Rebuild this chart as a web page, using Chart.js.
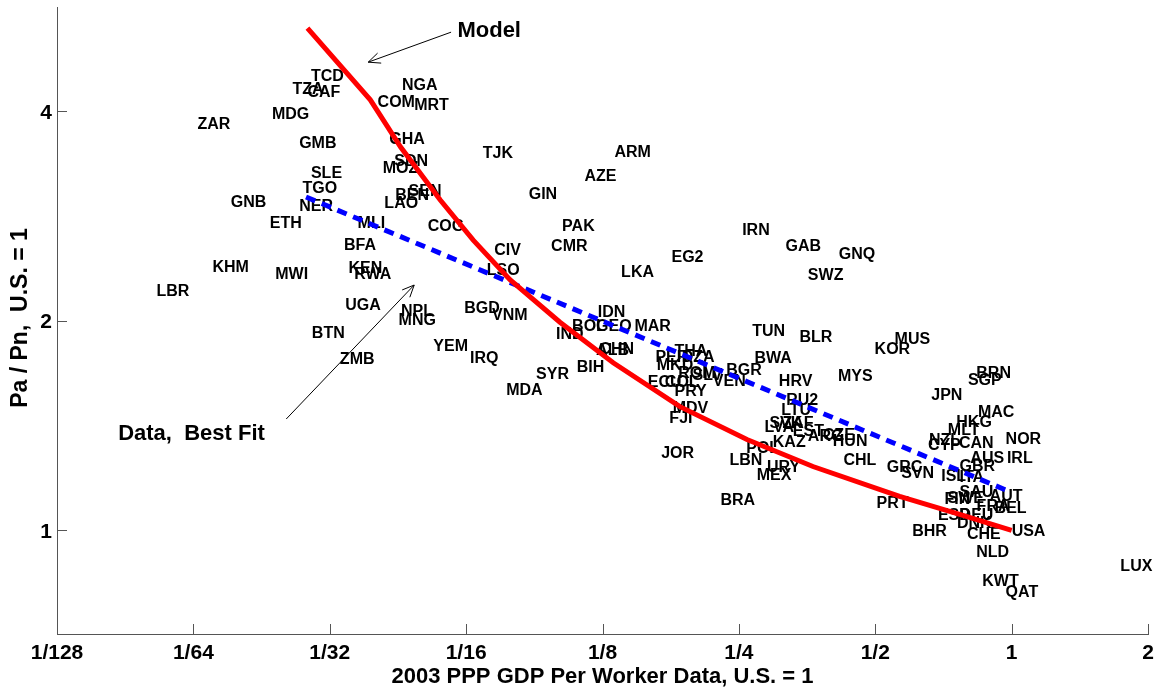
<!DOCTYPE html>
<html><head><meta charset="utf-8">
<script src="https://cdn.jsdelivr.net/npm/chart.js@4.4.0/dist/chart.umd.min.js"></script>
<style>html,body{margin:0;padding:0;background:#fff;}canvas{display:block;}</style>
</head><body>
<canvas id="c" width="1160" height="692"></canvas>
<script>
const FONT = '"Liberation Sans", Arial, Helvetica, sans-serif';

const countries = ['TCD','TZA','CAF','MDG','ZAR','GMB','SLE','TGO','GNB','NER','ETH','MLI','COM','NGA','MRT','GHA','SDN','MOZ','BEN','SEN','LAO','COG','TJK','ARM','AZE','GIN','PAK','IRN','BFA','KHM','MWI','KEN','RWA','LBR','UGA','BTN','ZMB','CIV','CMR','LSO','LKA','EG2','NPL','MNG','BGD','VNM','IDN','BOL','GEO','MAR','IND','ALB','CHN','BIH','SYR','MDA','YEM','IRQ','THA','PER','MKD','ECU','PRY','MDV','FJI','VEN','BGR','TUN','BWA','BLR','HRV','RU2','LTU','SVK','LVA','EST','ARG','CZE','HUN','KAZ','POL','LBN','URY','MEX','CHL','BRA','MYS','JOR','PRT','GAB','GNQ','SWZ','MUS','KOR','BRN','SGP','JPN','MAC','HKG','MLT','NZL','CYP','CAN','NOR','AUS','IRL','GBR','GRC','SVN','ISL','ITA','SAU','FIN','SWE','AUT','BEL','ESP','DNK','CHE','USA','BHR','NLD','KWT','QAT','LUX','DZA','ROM','SLV','COL','ZAF','FRA','DEU'];
const gdpRel = [0.0284,0.02586,0.0279,0.0233,0.01595,0.02675,0.0284,0.0272,0.0189,0.02675,0.02305,0.0360,0.03985,0.0451,0.0480,0.0423,0.0434,0.0409,0.0436,0.04665,0.04125,0.0514,0.0680,0.1328,0.1140,0.0859,0.1018,0.2542,0.0336,0.01722,0.02369,0.03438,0.0354,0.01295,0.0338,0.02853,0.0329,0.0721,0.09625,0.0694,0.1374,0.1775,0.0449,0.04434,0.0619,0.0713,0.1220,0.1071,0.1210,0.147,0.09875,0.1210,0.1230,0.1096,0.0892,0.0766,0.0529,0.06375,0.1802,0.1636,0.1647,0.1574,0.1802,0.1786,0.1756,0.219,0.2344,0.2675,0.2706,0.3403,0.3063,0.318,0.31,0.292,0.2848,0.3288,0.355,0.383,0.403,0.297,0.2595,0.2383,0.2883,0.2738,0.4255,0.2277,0.4135,0.1684,0.5035,0.3168,0.4155,0.355,0.5517,0.4983,0.8356,0.8007,0.6648,0.8426,0.7549,0.7231,0.6568,0.6534,0.7649,0.9699,0.8107,0.9764,0.7676,0.5303,0.5704,0.6993,0.7676,0.7676,0.7112,0.7222,0.8941,0.917,0.6875,0.7572,0.7966,1.0,0.6031,0.8356,0.8615,0.9699,1.738,0.187,0.1836,0.1975,0.1716,0.312,0.837,0.7676];
const priceRatio = [4.49,4.30,4.27,3.97,3.84,3.60,3.26,3.10,2.96,2.93,2.77,2.77,4.13,4.36,4.09,3.65,3.40,3.32,3.03,3.07,2.95,2.74,3.48,3.50,3.23,3.04,2.74,2.70,2.57,2.39,2.34,2.38,2.34,2.21,2.11,1.920,1.762,2.53,2.56,2.37,2.35,2.47,2.07,2.01,2.09,2.04,2.06,1.965,1.965,1.965,1.914,1.815,1.821,1.716,1.677,1.591,1.839,1.768,1.810,1.774,1.728,1.633,1.585,1.499,1.450,1.639,1.699,1.933,1.768,1.895,1.639,1.539,1.489,1.426,1.407,1.389,1.366,1.371,1.344,1.340,1.313,1.262,1.233,1.201,1.262,1.106,1.666,1.292,1.095,2.56,2.50,2.33,1.883,1.821,1.683,1.644,1.565,1.479,1.431,1.394,1.348,1.326,1.335,1.353,1.270,1.270,1.237,1.233,1.209,1.197,1.193,1.135,1.109,1.113,1.120,1.080,1.052,1.025,0.991,1.0,0.998,0.931,0.846,0.818,0.889,1.774,1.683,1.672,1.633,1.426,1.084,1.052];

const modelX = [0.0279,0.0384,0.0448,0.0548,0.0648,0.0781,0.1007,0.1320,0.1853,0.2605,0.3643,0.566,0.768,1.0];
const modelY = [5.26,4.15,3.55,2.98,2.61,2.29,1.99,1.74,1.505,1.35,1.235,1.119,1.054,1.0];
const fitX = [0.0277,0.995];
const fitY = [3.01,1.135];

const xTickValues = [1/128,1/64,1/32,1/16,1/8,1/4,1/2,1,2];
const xTickLabels = ['1/128','1/64','1/32','1/16','1/8','1/4','1/2','1','2'];
const yTickValues = [1,2,4];
const yTickLabels = ['1','2','4'];
const xRange = [1/128, 2];
const yRange = [0.710, 5.64];

const noteTexts = ['Model','Data,  Best Fit'];
const noteX = [0.0598, 0.01066];
const noteY = [5.21, 1.375];
const arrowFromX = [0.0579, 0.02505];
const arrowFromY = [5.19, 1.445];
const arrowToX = [0.038, 0.0480];
const arrowToY = [4.70, 2.25];

const xTitle = '2003 PPP GDP Per Worker Data, U.S. = 1';
const yTitle = 'Pa / Pn,  U.S. = 1';

const pts = (xs, ys) => xs.map((v, i) => ({x: v, y: ys[i]}));

const overlay = {
  id: 'overlay',
  beforeDatasetsDraw(chart) {
    const ctx = chart.ctx;
    const meta = chart.getDatasetMeta(2);
    ctx.save();
    ctx.font = 'bold 16px ' + FONT;
    ctx.fillStyle = '#000';
    ctx.textAlign = 'left';
    ctx.textBaseline = 'middle';
    meta.data.forEach((el, i) => ctx.fillText(countries[i], el.x, el.y + 1));
    ctx.restore();
  },
  afterDraw(chart) {
    const ctx = chart.ctx, xs = chart.scales.x, ys = chart.scales.y, a = chart.chartArea;
    ctx.save();
    ctx.strokeStyle = '#555';
    ctx.lineWidth = 1;
    ctx.beginPath();
    xTickValues.forEach(v => { const px = Math.round(xs.getPixelForValue(v)) + 0.5; ctx.moveTo(px, a.bottom); ctx.lineTo(px, a.bottom - 10); });
    yTickValues.forEach(v => { const py = Math.round(ys.getPixelForValue(v)) + 0.5; ctx.moveTo(a.left, py); ctx.lineTo(a.left + 10, py); });
    ctx.stroke();
    ctx.fillStyle = '#000';
    ctx.font = 'bold 21px ' + FONT;
    ctx.textBaseline = 'middle';
    ctx.textAlign = 'center';
    xTickValues.forEach((v, i) => ctx.fillText(xTickLabels[i], xs.getPixelForValue(v), a.bottom + 19));
    ctx.textAlign = 'right';
    yTickValues.forEach((v, i) => ctx.fillText(yTickLabels[i], a.left - 5, ys.getPixelForValue(v) + 2));
    ctx.strokeStyle = '#000';
    ctx.lineWidth = 1;
    for (let i = 0; i < noteTexts.length; i++) {
      const x1 = xs.getPixelForValue(arrowFromX[i]), y1 = ys.getPixelForValue(arrowFromY[i]);
      const x2 = xs.getPixelForValue(arrowToX[i]), y2 = ys.getPixelForValue(arrowToY[i]);
      const ang = Math.atan2(y2 - y1, x2 - x1), L = 13, w = 0.42;
      ctx.beginPath();
      ctx.moveTo(x1, y1); ctx.lineTo(x2, y2);
      ctx.moveTo(x2 - L * Math.cos(ang - w), y2 - L * Math.sin(ang - w));
      ctx.lineTo(x2, y2);
      ctx.lineTo(x2 - L * Math.cos(ang + w), y2 - L * Math.sin(ang + w));
      ctx.stroke();
      ctx.font = 'bold 22px ' + FONT;
      ctx.textAlign = 'left';
      ctx.textBaseline = 'middle';
      ctx.fillText(noteTexts[i], xs.getPixelForValue(noteX[i]), ys.getPixelForValue(noteY[i]));
    }
    ctx.font = 'bold 22px ' + FONT;
    ctx.textAlign = 'center';
    ctx.textBaseline = 'middle';
    ctx.fillText(xTitle, (a.left + a.right) / 2, 677);
    ctx.font = 'bold 23px ' + FONT;
    ctx.translate(21, 318);
    ctx.rotate(-Math.PI / 2);
    ctx.fillText(yTitle, 0, 0);
    ctx.restore();
  }
};

const fixRange = r => s => { s.ticks = (r === xRange ? xTickValues : yTickValues).map(v => ({value: v})); s.min = r[0]; s.max = r[1]; };

new Chart(document.getElementById('c'), {
  type: 'scatter',
  data: {
    datasets: [
      {data: pts(modelX, modelY), showLine: true, borderColor: '#ff0000', borderWidth: 5, pointRadius: 0, fill: false, tension: 0},
      {data: pts(fitX, fitY), showLine: true, borderColor: '#0000ff', borderWidth: 5, borderDash: [10, 7], pointRadius: 0, fill: false},
      {data: pts(gdpRel, priceRatio), showLine: false, pointRadius: 0, borderWidth: 0}
    ]
  },
  options: {
    responsive: false,
    animation: false,
    devicePixelRatio: 1,
    layout: {padding: {left: 0, right: 12, top: 7, bottom: 0}},
    plugins: {legend: {display: false}, tooltip: {enabled: false}},
    scales: {
      x: {
        type: 'logarithmic', min: xRange[0], max: xRange[1], bounds: 'data',
        afterBuildTicks: fixRange(xRange),
        afterFit: s => { s.height = 58; },
        grid: {display: false, drawTicks: false},
        border: {display: true, color: '#555', width: 1},
        ticks: {display: false}
      },
      y: {
        type: 'logarithmic', min: yRange[0], max: yRange[1], bounds: 'data',
        afterBuildTicks: fixRange(yRange),
        afterFit: s => { s.width = 57; },
        grid: {display: false, drawTicks: false},
        border: {display: true, color: '#555', width: 1},
        ticks: {display: false}
      }
    }
  },
  plugins: [overlay]
});
</script>
</body></html>
